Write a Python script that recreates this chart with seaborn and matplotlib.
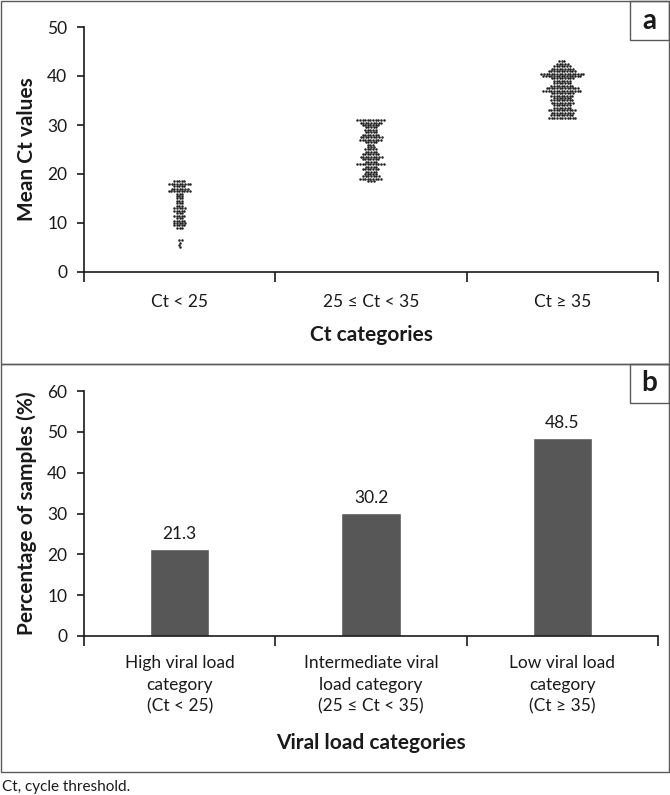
import numpy as np
import pandas as pd
import seaborn as sns
import matplotlib.pyplot as plt
from matplotlib.patches import Rectangle

# panel a: mean Ct values as (value, number of dots)
ct_groups = ["Ct < 25", "25 ≤ Ct < 35", "Ct ≥ 35"]

high_vals = [18.5, 18, 17.5, 17, 16.5, 16, 15.5, 15, 14.5, 14, 13.5, 13, 12.5, 12,
             11.5, 11, 10.5, 10, 9.5, 9, 6.5, 6, 5.5, 5]
high_counts = [5, 9, 5, 7, 9, 3, 3, 3, 3, 3, 3, 5, 5, 3, 5, 3, 5, 5, 5, 3, 2, 1, 1, 1]

mid_vals = [31, 30.5, 30, 29.5, 29, 28.5, 28, 27.5, 27, 26.5, 26, 25.5, 25, 24.5, 24,
            23.5, 23, 22.5, 22, 21.5, 21, 20.5, 20, 19.5, 19, 18.5]
mid_counts = [11, 9, 7, 5, 5, 5, 7, 9, 9, 5, 3, 3, 5, 5, 7, 9, 7, 5, 11, 5, 7, 5, 5, 7, 9, 3]

low_vals = [43, 42.5, 42, 41.5, 41, 40.5, 40, 39.5, 39, 38.5, 38, 37.5, 37, 36.5, 36,
            35.5, 35, 34.5, 34, 33.5, 33, 32.5, 32, 31.5]
low_counts = [3, 5, 7, 9, 11, 17, 15, 9, 7, 7, 9, 13, 15, 9, 9, 7, 9, 9, 7, 7, 11, 9, 9, 11]

# panel b: percentage of samples per viral load category
load_labels = ["High viral load\ncategory\n(Ct < 25)",
               "Intermediate viral\nload category\n(25 ≤ Ct < 35)",
               "Low viral load\ncategory\n(Ct ≥ 35)"]
load_pct = [21.3, 30.2, 48.5]

sns.set_theme(style="ticks")
plt.rcParams["font.family"] = ["Lato", "DejaVu Sans"]
ink = "#1a1a1a"
plt.rcParams.update({"axes.edgecolor": ink, "xtick.color": ink, "ytick.color": ink,
                     "text.color": ink, "axes.labelcolor": ink, "axes.linewidth": 1.2})

rows = []
for g, vals, cnts in zip(ct_groups, [high_vals, mid_vals, low_vals],
                         [high_counts, mid_counts, low_counts]):
    for v in np.repeat(vals, cnts):
        rows.append({"group": g, "ct": v})
df_ct = pd.DataFrame(rows)

df_load = pd.DataFrame({"cat": load_labels, "pct": load_pct})

fig = plt.figure(figsize=(6.7, 7.95), dpi=100)

ax1 = fig.add_axes([84 / 670, 1 - 272 / 795, 574 / 670, 245 / 795])
sns.swarmplot(data=df_ct, x="group", y="ct", order=ct_groups, color="#222222",
              size=1.8, linewidth=0, ax=ax1, warn_thresh=1)
ax1.set_ylim(0, 50)
ax1.set_yticks(range(0, 51, 10))
ax1.set_xlim(-0.5, 2.5)
ax1.set_xticks([0, 1, 2])
ax1.set_xticklabels(ct_groups)
ax1.set_xticks([-0.5, 0.5, 1.5, 2.5], minor=True)
ax1.tick_params(axis="x", which="major", length=0, pad=16, labelsize=12.5)
ax1.tick_params(axis="x", which="minor", length=7, width=1.2)
ax1.tick_params(axis="y", length=5, width=1.2, labelsize=12.5, pad=7)
ax1.set_xlabel("Ct categories", fontsize=15, fontweight="bold", labelpad=11)
ax1.set_ylabel("Mean Ct values", fontsize=15, fontweight="bold", labelpad=7)
sns.despine(ax=ax1)

ax2 = fig.add_axes([84 / 670, 1 - 636 / 795, 574 / 670, 245 / 795])
sns.barplot(data=df_load, x="cat", y="pct", color="#575757", width=0.31,
            saturation=1, ax=ax2)
for i, v in enumerate(load_pct):
    ax2.text(i, v + 1.6, f"{v:.1f}", ha="center", va="bottom", fontsize=12.5)
ax2.set_ylim(0, 60)
ax2.set_yticks(range(0, 61, 10))
ax2.set_xlim(-0.5, 2.5)
ax2.set_xticks([-0.5, 0.5, 1.5, 2.5], minor=True)
ax2.tick_params(axis="x", which="major", length=0, pad=14, labelsize=12.5)
ax2.tick_params(axis="x", which="minor", length=7, width=1.2)
ax2.tick_params(axis="y", length=5, width=1.2, labelsize=12.5, pad=7)
for t in ax2.get_xticklabels():
    t.set_linespacing(1.4)
ax2.set_xlabel("Viral load categories", fontsize=15, fontweight="bold", labelpad=14)
ax2.set_ylabel("Percentage of samples (%)", fontsize=15, fontweight="bold", labelpad=7)
sns.despine(ax=ax2)

# panel frames and letter boxes
W, H = 670, 795
frame = "#5a5a5a"
def box(x0, y0, x1, y1):
    fig.patches.append(Rectangle((x0 / W, 1 - y1 / H), (x1 - x0) / W, (y1 - y0) / H,
                                 transform=fig.transFigure, fill=False,
                                 edgecolor=frame, linewidth=1))
box(1, 1, 669, 364)
box(1, 364, 669, 772)
box(630, 1, 669, 40)
box(630, 364, 669, 403)
fig.text(649.5 / W, 1 - 21 / H, "a", ha="center", va="center", fontsize=20, fontweight="bold")
fig.text(649.5 / W, 1 - 383 / H, "b", ha="center", va="center", fontsize=20, fontweight="bold")
fig.text(2 / W, 1 - 787 / H, "Ct, cycle threshold.", ha="left", va="center", fontsize=11)

fig.savefig("out.png", dpi=100)
